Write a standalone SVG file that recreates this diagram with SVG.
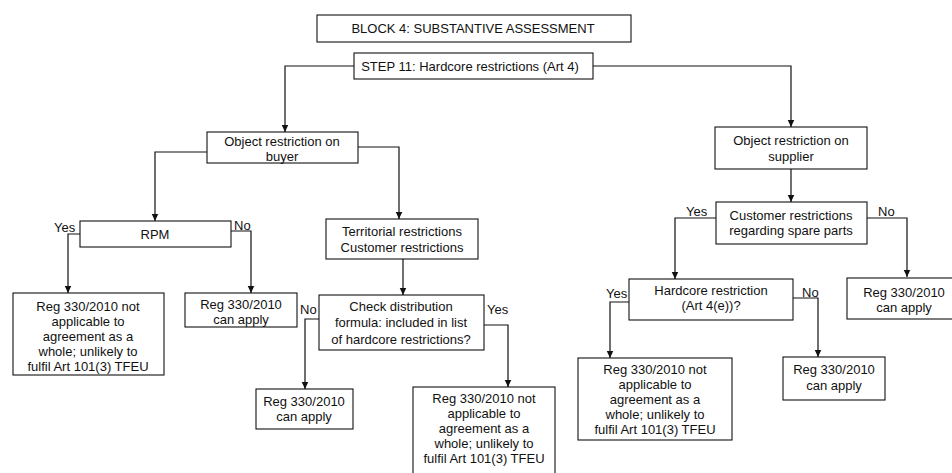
<svg xmlns="http://www.w3.org/2000/svg" width="952" height="473" viewBox="0 0 952 473">
  <style>
    .box { fill: #ffffff; stroke: #111111; stroke-width: 1.1; }
    .t { font-family: "Liberation Sans", Arial, sans-serif; font-size: 13px; fill: #111111; text-anchor: middle; }
    .lbl { font-family: "Liberation Sans", Arial, sans-serif; font-size: 13px; fill: #111111; }
    .conn { fill: none; stroke: #111111; stroke-width: 1.2; marker-end: url(#arrow); }
  </style>
  <defs>
    <marker id="arrow" markerUnits="userSpaceOnUse" markerWidth="9" markerHeight="9" refX="7.5" refY="4.5" orient="auto">
      <path d="M0,1 L7.5,4.5 L0,8 Z" fill="#111111"/>
    </marker>
  </defs>
  <rect width="952" height="473" fill="#ffffff"/>

  <!-- connectors -->
  <g id="connectors">
    <path class="conn" d="M354,66 H285 V132"/>
    <path class="conn" d="M593,66 H791 V127"/>
    <path class="conn" d="M207,152 H155 V221"/>
    <path class="conn" d="M358,147 H399 V219"/>
    <path class="conn" d="M80,234 H68 V293"/>
    <path class="conn" d="M231,231 H251 V293"/>
    <path class="conn" d="M403,259 V295"/>
    <path class="conn" d="M319,319 H305 V389"/>
    <path class="conn" d="M484,325 H508 V387"/>
    <path class="conn" d="M791,169 V202"/>
    <path class="conn" d="M716,218 H675 V279"/>
    <path class="conn" d="M867,218 H907 V277"/>
    <path class="conn" d="M629,302 H610 V358"/>
    <path class="conn" d="M793,298 H818 V357"/>
  </g>

  <!-- branch labels -->
  <g id="labels">
    <text class="lbl" x="54" y="232">Yes</text>
    <text class="lbl" x="234" y="230">No</text>
    <text class="lbl" x="300" y="314">No</text>
    <text class="lbl" x="487" y="314">Yes</text>
    <text class="lbl" x="686" y="216">Yes</text>
    <text class="lbl" x="878" y="216">No</text>
    <text class="lbl" x="606" y="298">Yes</text>
    <text class="lbl" x="802" y="297">No</text>
  </g>

  <g id="block4">
    <rect class="box" x="317" y="15" width="314" height="27"/>
    <text class="t" x="473" y="33">BLOCK 4: SUBSTANTIVE ASSESSMENT</text>
  </g>

  <g id="step11">
    <rect class="box" x="354" y="53" width="239" height="26"/>
    <text class="t" x="470" y="71">STEP 11: Hardcore restrictions (Art 4)</text>
  </g>

  <g id="buyer">
    <rect class="box" x="207" y="132" width="151" height="31"/>
    <text class="t" x="282" y="146">Object restriction on</text>
    <text class="t" x="282" y="161">buyer</text>
  </g>

  <g id="rpm">
    <rect class="box" x="80" y="221" width="151" height="26"/>
    <text class="t" x="155" y="239">RPM</text>
  </g>

  <g id="territorial">
    <rect class="box" x="326" y="219" width="152" height="40"/>
    <text class="t" x="402" y="236">Territorial restrictions</text>
    <text class="t" x="402" y="252">Customer restrictions</text>
  </g>

  <g id="rpm-yes">
    <rect class="box" x="13" y="293" width="151" height="82"/>
    <text class="t" x="88" y="311">Reg 330/2010 not</text>
    <text class="t" x="88" y="326">applicable to</text>
    <text class="t" x="88" y="341">agreement as a</text>
    <text class="t" x="88" y="356">whole; unlikely to</text>
    <text class="t" x="88" y="371">fulfil Art 101(3) TFEU</text>
  </g>

  <g id="rpm-no">
    <rect class="box" x="185" y="293" width="112" height="34"/>
    <text class="t" x="241" y="309">Reg 330/2010</text>
    <text class="t" x="241" y="324">can apply</text>
  </g>

  <g id="check">
    <rect class="box" x="319" y="295" width="165" height="55"/>
    <text class="t" x="401" y="311">Check distribution</text>
    <text class="t" x="401" y="327">formula: included in list</text>
    <text class="t" x="401" y="344">of hardcore restrictions?</text>
  </g>

  <g id="check-no">
    <rect class="box" x="256" y="389" width="97" height="40"/>
    <text class="t" x="304" y="406">Reg 330/2010</text>
    <text class="t" x="304" y="421">can apply</text>
  </g>

  <g id="check-yes">
    <rect class="box" x="413" y="387" width="142" height="92"/>
    <text class="t" x="484" y="403">Reg 330/2010 not</text>
    <text class="t" x="484" y="418">applicable to</text>
    <text class="t" x="484" y="433">agreement as a</text>
    <text class="t" x="484" y="448">whole; unlikely to</text>
    <text class="t" x="484" y="463">fulfil Art 101(3) TFEU</text>
  </g>

  <g id="supplier">
    <rect class="box" x="715" y="127" width="152" height="42"/>
    <text class="t" x="791" y="145">Object restriction on</text>
    <text class="t" x="791" y="161">supplier</text>
  </g>

  <g id="spare-parts">
    <rect class="box" x="716" y="202" width="151" height="42"/>
    <text class="t" x="791" y="220">Customer restrictions</text>
    <text class="t" x="791" y="235">regarding spare parts</text>
  </g>

  <g id="spare-parts-no">
    <rect class="box" x="847" y="278" width="120" height="41"/>
    <text class="t" x="904" y="297">Reg 330/2010</text>
    <text class="t" x="904" y="312">can apply</text>
  </g>

  <g id="hardcore-4e">
    <rect class="box" x="629" y="279" width="164" height="41"/>
    <text class="t" x="711" y="295">Hardcore restriction</text>
    <text class="t" x="711" y="310">(Art 4(e))?</text>
  </g>

  <g id="hardcore-yes">
    <rect class="box" x="578" y="358" width="154" height="82"/>
    <text class="t" x="655" y="374">Reg 330/2010 not</text>
    <text class="t" x="655" y="389">applicable to</text>
    <text class="t" x="655" y="404">agreement as a</text>
    <text class="t" x="655" y="419">whole; unlikely to</text>
    <text class="t" x="655" y="434">fulfil Art 101(3) TFEU</text>
  </g>

  <g id="hardcore-no">
    <rect class="box" x="783" y="357" width="102" height="43"/>
    <text class="t" x="834" y="374">Reg 330/2010</text>
    <text class="t" x="834" y="390">can apply</text>
  </g>
</svg>
